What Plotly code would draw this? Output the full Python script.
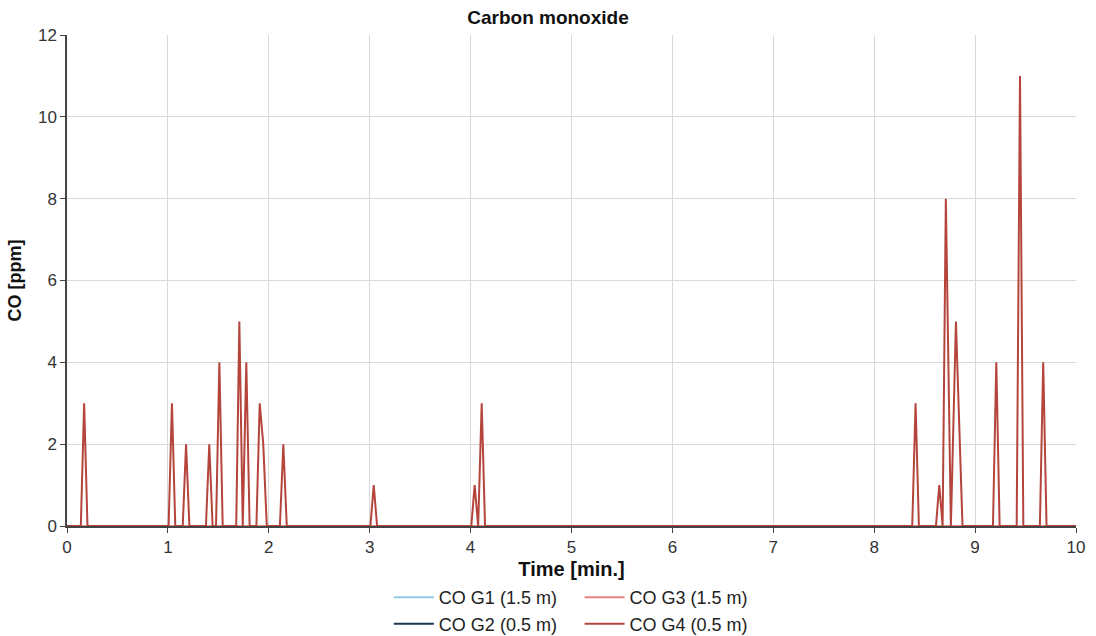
import plotly.graph_objects as go

# ---- data ----
time_flat = [0, 10]
co_g1 = [0, 0]
co_g2 = [0, 0]
co_g3 = [0, 0]

time_g4 = [0, 0.137, 0.17, 0.203,
           1.007, 1.04, 1.073,
           1.147, 1.18, 1.213,
           1.377, 1.41, 1.443,
           1.477, 1.51, 1.543,
           1.677, 1.708, 1.742, 1.777, 1.81,
           1.877, 1.91, 1.945, 1.98,
           2.11, 2.144, 2.178,
           3.007, 3.04, 3.073,
           4.007, 4.04, 4.075, 4.11, 4.143,
           8.377, 8.41, 8.443,
           8.612, 8.645, 8.678, 8.71, 8.76, 8.81, 8.875,
           9.177, 9.21, 9.243,
           9.412, 9.445, 9.478,
           9.642, 9.675, 9.708,
           10]
co_g4 = [0, 0, 3, 0,
         0, 3, 0,
         0, 2, 0,
         0, 2, 0,
         0, 4, 0,
         0, 5, 0, 4, 0,
         0, 3, 2, 0,
         0, 2, 0,
         0, 1, 0,
         0, 1, 0, 3, 0,
         0, 3, 0,
         0, 1, 0, 8, 0, 5, 0,
         0, 4, 0,
         0, 11, 0,
         0, 4, 0,
         0]

x_ticks = [0, 1, 2, 3, 4, 5, 6, 7, 8, 9, 10]
y_ticks = [0, 2, 4, 6, 8, 10, 12]

FONT = "Liberation Sans, Arial, sans-serif"

fig = go.Figure()
fig.add_trace(go.Scatter(x=time_flat, y=co_g1, mode="lines", name="CO G1 (1.5 m)",
                         line=dict(color="#8fcbe8", width=2), legend="legend"))
fig.add_trace(go.Scatter(x=time_flat, y=co_g2, mode="lines", name="CO G2 (0.5 m)",
                         line=dict(color="#1c3550", width=2), legend="legend"))
fig.add_trace(go.Scatter(x=time_flat, y=co_g3, mode="lines", name="CO G3 (1.5 m)",
                         line=dict(color="#e88580", width=2), legend="legend2"))
fig.add_trace(go.Scatter(x=time_g4, y=co_g4, mode="lines", name="CO G4 (0.5 m)",
                         line=dict(color="#b5453c", width=2), legend="legend2"))

axis_common = dict(
    showline=True, linecolor="#444444", linewidth=1.5,
    showgrid=True, gridcolor="#d9d9d9", gridwidth=1,
    ticks="outside", ticklen=5, tickcolor="#444444",
    tickfont=dict(family=FONT, size=17, color="#333333"),
    zeroline=False,
)

fig.update_layout(
    width=1096, height=636,
    margin=dict(l=67, r=20, t=35, b=110, autoexpand=False),
    paper_bgcolor="white", plot_bgcolor="white",
    title=dict(text="<b>Carbon monoxide</b>", x=0.5, xanchor="center",
               y=0.972, yanchor="middle",
               font=dict(family=FONT, size=19, color="#111111")),
    xaxis=dict(range=[0, 10], tickvals=x_ticks,
               title=dict(text="<b>Time [min.]</b>", standoff=6,
                          font=dict(family=FONT, size=20, color="#111111")),
               **axis_common),
    yaxis=dict(range=[0, 12], tickvals=y_ticks,
               title=dict(text="<b>CO [ppm]</b>", standoff=12,
                          font=dict(family=FONT, size=18, color="#111111")),
               **axis_common),
    legend=dict(orientation="v", x=0.319, xanchor="left", y=-0.108, yanchor="top",
                font=dict(family=FONT, size=18, color="#222222"),
                bgcolor="rgba(0,0,0,0)", tracegroupgap=0, itemwidth=40),
    legend2=dict(orientation="v", x=0.508, xanchor="left", y=-0.108, yanchor="top",
                 font=dict(family=FONT, size=18, color="#222222"),
                 bgcolor="rgba(0,0,0,0)", tracegroupgap=0, itemwidth=40),
    showlegend=True,
)

fig.write_html("out.html")
